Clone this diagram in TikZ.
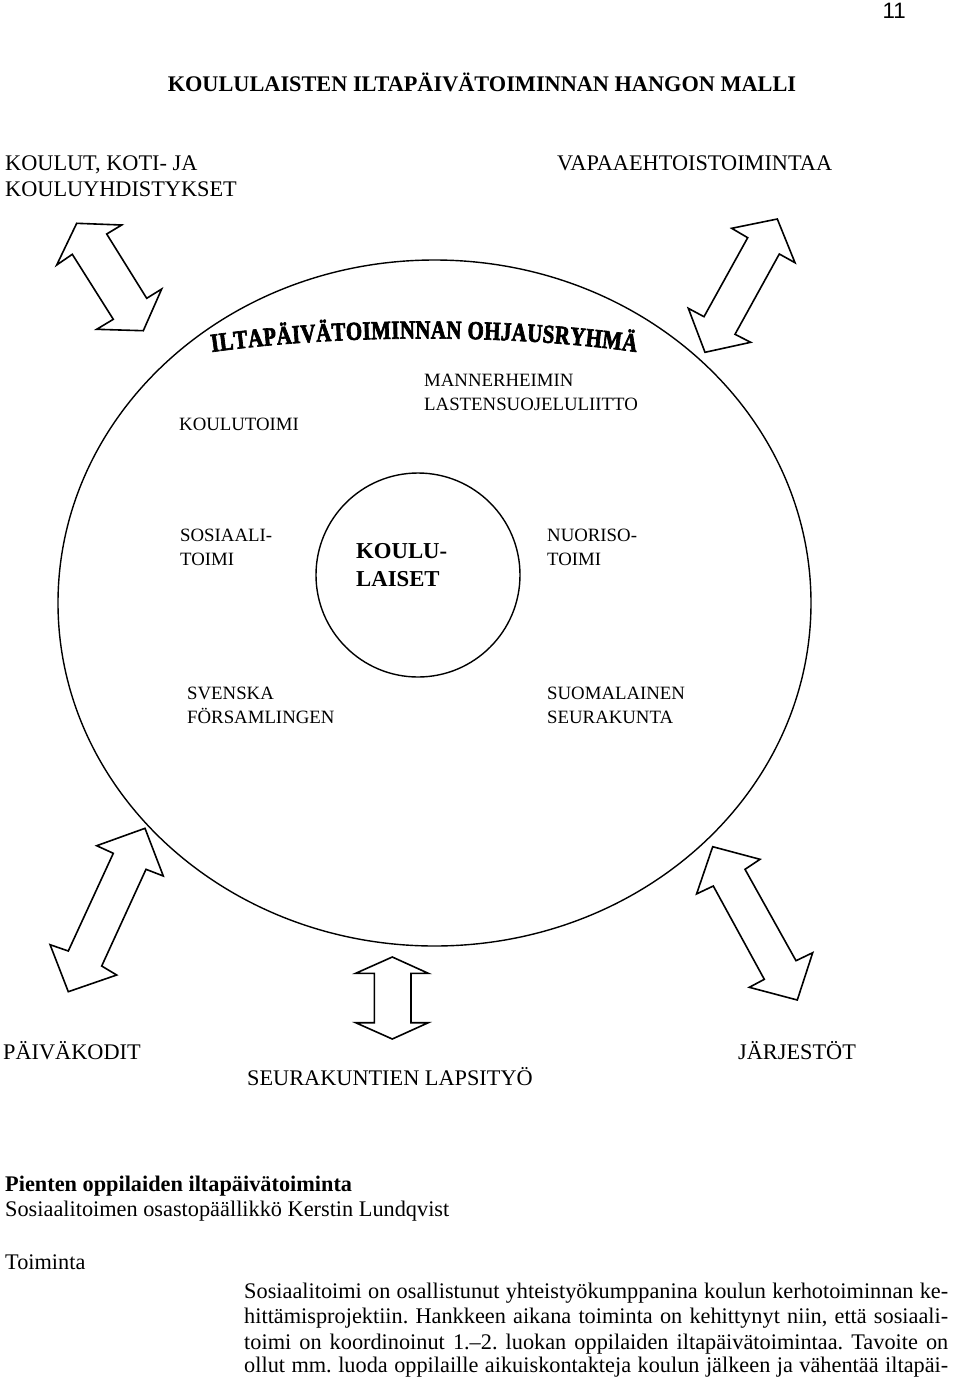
\documentclass[tikz,border=0pt]{standalone}
\usepackage{fontspec}
\setmainfont{Liberation Serif}
\newfontfamily\sansnum{Liberation Sans}
\newfontfamily\wafont[FakeStretch=0.8,BoldFeatures={FakeBold=2.5}]{Liberation Serif}
\usetikzlibrary{decorations.text,shapes.geometric}
\frenchspacing
\tikzset{
  pg/.style={inner sep=0pt, anchor=base west, font=\fontsize{22.3}{25.6}\selectfont},
  pgb/.style={inner sep=0pt, anchor=base west, font=\fontsize{22.3}{25.6}\selectfont\bfseries},
  dl/.style={inner sep=0pt, anchor=base west, font=\fontsize{18.8}{24}\selectfont},
  dlb/.style={inner sep=0pt, anchor=base west, font=\fontsize{22.75}{28}\selectfont\bfseries},
  barrow/.style={draw=black, line width=1.6pt, line join=miter},
  ring/.style={draw=black, line width=1.4pt, inner sep=0pt},
}
\begin{document}
\begin{tikzpicture}[x=1pt,y=-1pt]
\useasboundingbox (0,0) rectangle (960,1377);

% page number and title
\node[inner sep=0pt, anchor=base east, font=\sansnum\fontsize{22.3}{25}\selectfont] (pnum) at (906,18) {11};
\node[pgb, anchor=base] (title) at (482,91.4) {KOULULAISTEN ILTAPÄIVÄTOIMINNAN HANGON MALLI};

% top labels
\node[pg] (koulut1) at (5,170.5) {KOULUT, KOTI- JA};
\node[pg] (koulut2) at (5,196.1) {KOULUYHDISTYKSET};
\node[pg] (vapaa) at (557,170.5) {VAPAAEHTOISTOIMINTAA};

% outer ellipse and inner circle
\node[ring, ellipse, minimum width=753pt, minimum height=686pt] (outer) at (434.5,603) {};
\node[ring, circle, minimum size=204pt] (inner) at (418,575) {};

% arced title
\path[decorate, decoration={text along path, text align=fit to path,
  text={|\wafont\bfseries\fontsize{26}{26}\selectfont|ILTAPÄIVÄTOIMINNAN OHJAUSRYHMÄ}}]
  (212,352) .. controls (340,334) and (510,334) .. (636,352);

% diagram labels
\node[dl] (mann1) at (424,386) {MANNERHEIMIN};
\node[dl] (mann2) at (424,410) {LASTENSUOJELULIITTO};
\node[dl] (koulutoimi) at (179,430) {KOULUTOIMI};
\node[dl] (sos1) at (180,541) {SOSIAALI-};
\node[dl] (sos2) at (180,565) {TOIMI};
\node[dl] (nuo1) at (547,541) {NUORISO-};
\node[dl] (nuo2) at (547,565) {TOIMI};
\node[dlb] (kl1) at (356,558.5) {KOULU-};
\node[dlb] (kl2) at (356,586.5) {LAISET};
\node[dl] (sv1) at (187,699) {SVENSKA};
\node[dl] (sv2) at (187,723) {FÖRSAMLINGEN};
\node[dl] (suo1) at (547,699) {SUOMALAINEN};
\node[dl] (suo2) at (547,723) {SEURAKUNTA};

% double block arrows
\draw[barrow] (76.7,223.3) -- (121.7,225) -- (106.7,234) -- (146.7,298.3) -- (161.7,289) -- (143.3,330.7) -- (96.7,329.3) -- (113.3,319.3) -- (72.3,254.3) -- (56.7,265) -- cycle;
\draw[barrow] (731.7,228.3) -- (777.3,219) -- (795,262.7) -- (779.3,254) -- (735,334.3) -- (750.7,342.3) -- (705,352.3) -- (688.3,308.3) -- (704,316.7) -- (747.7,237.7) -- cycle;
\draw[barrow] (96.7,845.7) -- (145,828.3) -- (163.3,876) -- (146,869.3) -- (101.7,966) -- (116.7,975) -- (68.3,991.7) -- (50.1,944.7) -- (68.3,951) -- (113.3,853.3) -- cycle;
\draw[barrow] (712.7,846.7) -- (760,859.3) -- (745,869.3) -- (796,960.7) -- (812.7,952.7) -- (797.3,1000) -- (749.3,987.3) -- (764.3,979.3) -- (713.3,886) -- (696.6,893.9) -- cycle;
\draw[barrow] (392.3,957) -- (428.3,973.3) -- (411,973.3) -- (411,1022.7) -- (428.3,1022.7) -- (392.3,1039) -- (355.7,1022.7) -- (374.3,1022.7) -- (374.3,973.3) -- (355.7,973.3) -- cycle;

% bottom labels
\node[pg] (paiva) at (3,1059.5) {PÄIVÄKODIT};
\node[pg] (jarj) at (738,1059.5) {JÄRJESTÖT};
\node[pg] (seur) at (247,1085.5) {SEURAKUNTIEN LAPSITYÖ};

% text below
\node[pgb] (h1) at (5,1191) {Pienten oppilaiden iltapäivätoiminta};
\node[pg] (h2) at (5,1216.6) {Sosiaalitoimen osastopäällikkö Kerstin Lundqvist};
\node[pg] (h3) at (5,1269) {Toiminta};
\node[pg] (p1) at (244,1298) {\makebox[704pt][s]{Sosiaalitoimi on osallistunut yhteistyökumppanina koulun kerhotoiminnan ke-}};
\node[pg] (p2) at (244,1323.6) {\makebox[704pt][s]{hittämisprojektiin. Hankkeen aikana toiminta on kehittynyt niin, että sosiaali-}};
\node[pg] (p3) at (244,1349.2) {\makebox[704pt][s]{toimi on koordinoinut 1.–2. luokan oppilaiden iltapäivätoimintaa. Tavoite on}};
\node[pg] (p4) at (244,1372.5) {\makebox[704pt][s]{ollut mm. luoda oppilaille aikuiskontakteja koulun jälkeen ja vähentää iltapäi-}};
\end{tikzpicture}
\end{document}
